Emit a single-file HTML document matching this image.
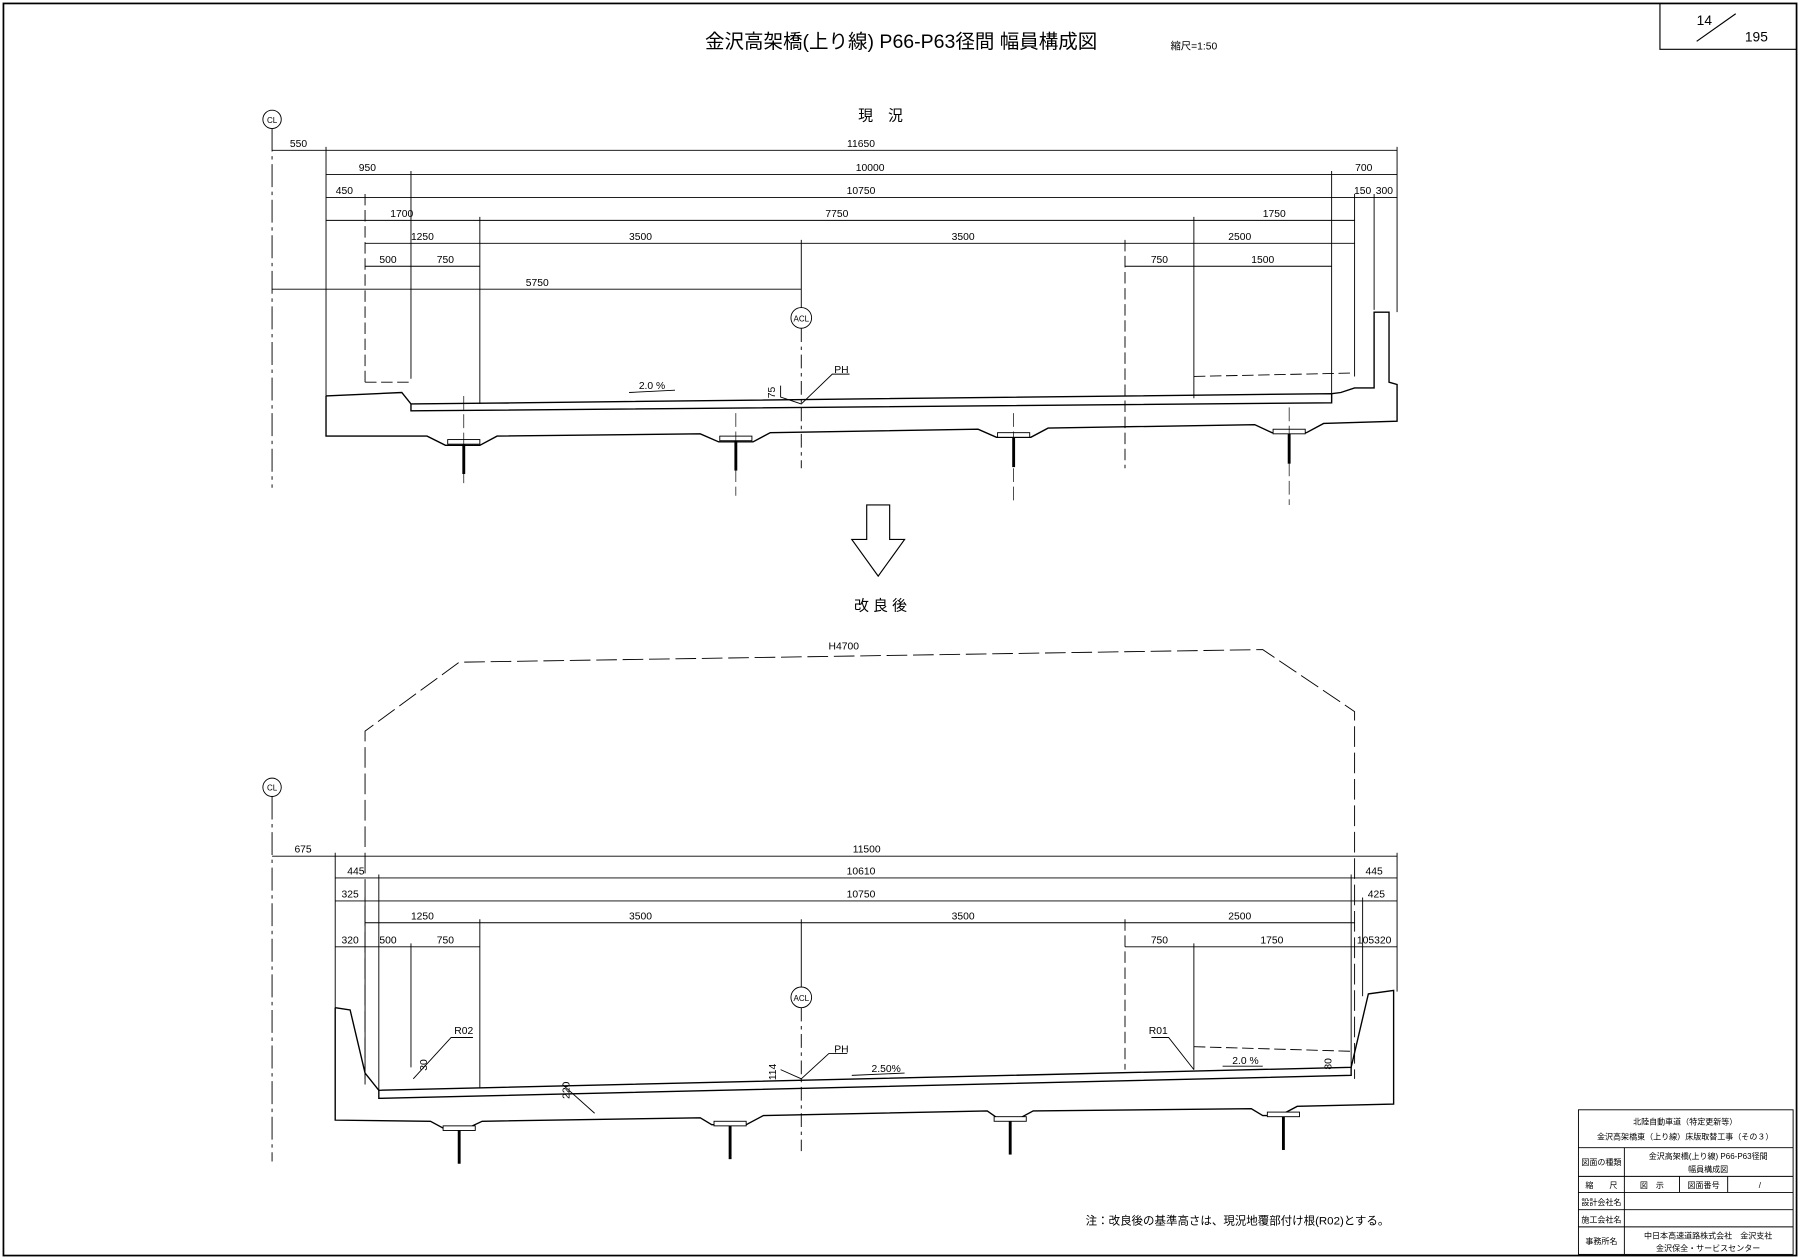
<!DOCTYPE html>
<html><head><meta charset="utf-8"><style>
html,body{margin:0;padding:0;background:#fff}
svg{display:block}
text{font-family:"Liberation Sans","Noto Sans CJK JP",sans-serif;fill:#000}
.d{font-size:9px;text-anchor:middle}
</style></head><body>
<svg width="1800" height="1259" viewBox="0 0 1568 1097" preserveAspectRatio="none" xmlns="http://www.w3.org/2000/svg">
<g fill="none" stroke="#000">
<rect x="3" y="3" width="1562" height="1091" stroke-width="1.5"/>
<polyline points="1446,3 1446,43 1565,43" stroke-width="1"/>
<line x1="1478" y1="36" x2="1512" y2="12" stroke-width="1"/>
</g>
<text x="785" y="42" font-size="17" text-anchor="middle">金沢高架橋(上り線) P66-P63径間 幅員構成図</text>
<text x="1040" y="43" font-size="9" text-anchor="middle">縮尺=1:50</text>
<text x="1478" y="22" font-size="12" font-family="Liberation Serif">14</text>
<text x="1520" y="36" font-size="12" font-family="Liberation Serif">195</text>

<text x="767" y="105" font-size="13" text-anchor="middle">現　況</text>
<text x="767" y="532" font-size="13" text-anchor="middle">改 良 後</text>

<!-- TOP SECTION -->
<g fill="none" stroke="#000" stroke-width="0.8">
<circle cx="237" cy="104" r="8"/>
<line x1="237" y1="112" x2="237" y2="425" stroke-dasharray="20,4,3,4"/>
<!-- dim lines -->
<line x1="237" y1="131" x2="1217" y2="131"/>
<line x1="284" y1="152" x2="1217" y2="152"/>
<line x1="284" y1="172" x2="1217" y2="172"/>
<line x1="284" y1="192" x2="1180" y2="192"/>
<line x1="318" y1="212" x2="1180" y2="212"/>
<line x1="318" y1="232" x2="418" y2="232"/>
<line x1="980" y1="232" x2="1160" y2="232"/>
<line x1="237" y1="252" x2="698" y2="252"/>
<!-- extension lines -->
<line x1="284" y1="128" x2="284" y2="345"/>
<line x1="358" y1="149" x2="358" y2="330"/>
<line x1="318" y1="169" x2="318" y2="333" stroke-dasharray="10,4"/>
<line x1="418" y1="189" x2="418" y2="352"/>
<line x1="698" y1="209" x2="698" y2="268"/>
<line x1="698" y1="286" x2="698" y2="408" stroke-dasharray="12,4,3,4"/>
<line x1="980" y1="209" x2="980" y2="408" stroke-dasharray="10,4"/>
<line x1="1040" y1="189" x2="1040" y2="347"/>
<line x1="1160" y1="149" x2="1160" y2="350"/>
<line x1="1180" y1="169" x2="1180" y2="328"/>
<line x1="1197" y1="169" x2="1197" y2="270"/>
<line x1="1217" y1="128" x2="1217" y2="272"/>
<polyline points="318,333 358,333" stroke-dasharray="10,4"/>
<polyline points="1040,328 1180,325" stroke-dasharray="10,4"/>
<circle cx="698" cy="277" r="9"/>
<!-- deck -->
<g stroke-width="1.2">
<polyline points="284,345 350,342 358,352 1160,343 1160,351 358,358 358,352"/>
<polyline points="284,345 284,380 372,380 388,388 418,388 433,380 610,378 626,385 656,385 671,377 852,374 868,381 898,381 913,373 1093,370 1108,377 1138,377 1153,369 1217,367 1217,335 1210,333 1210,272 1197,272 1197,338 1180,338 1168,342 1160,343"/>
</g>
<line x1="548" y1="342" x2="588" y2="340"/>
<polyline points="680,336 680,346 698,352 725,326 740,326"/>
</g>
<g>
<rect x="390" y="383" width="28" height="4" fill="#fff" stroke="#000" stroke-width="0.8"/>
<rect x="627" y="380" width="28" height="4" fill="#fff" stroke="#000" stroke-width="0.8"/>
<rect x="869" y="377" width="28" height="4" fill="#fff" stroke="#000" stroke-width="0.8"/>
<rect x="1109" y="374" width="28" height="4" fill="#fff" stroke="#000" stroke-width="0.8"/>
<g stroke="#000" stroke-width="2.5"><line x1="404" y1="387" x2="404" y2="413"/><line x1="641" y1="384" x2="641" y2="410"/><line x1="883" y1="381" x2="883" y2="407"/><line x1="1123" y1="378" x2="1123" y2="404"/></g>
<g stroke="#000" stroke-width="0.6" stroke-dasharray="12,4"><line x1="404" y1="345" x2="404" y2="425"/><line x1="641" y1="360" x2="641" y2="432"/><line x1="883" y1="360" x2="883" y2="437"/><line x1="1123" y1="355" x2="1123" y2="440"/></g>
</g>
<text x="698" y="280" font-size="7" text-anchor="middle">ACL</text>
<text x="237" y="107" font-size="7" text-anchor="middle">CL</text>
<text x="568" y="339" font-size="9" text-anchor="middle">2.0 %</text>
<text x="733" y="325" font-size="9" text-anchor="middle">PH</text>
<text x="675" y="342" font-size="9" transform="rotate(-90 675 342)" text-anchor="middle">75</text>
<g class="d">
<text class="d" x="260" y="128">550</text><text class="d" x="750" y="128">11650</text>
<text class="d" x="320" y="149">950</text><text class="d" x="758" y="149">10000</text><text class="d" x="1188" y="149">700</text>
<text class="d" x="300" y="169">450</text><text class="d" x="750" y="169">10750</text><text class="d" x="1187" y="169">150</text><text class="d" x="1206" y="169">300</text>
<text class="d" x="350" y="189">1700</text><text class="d" x="729" y="189">7750</text><text class="d" x="1110" y="189">1750</text>
<text class="d" x="368" y="209">1250</text><text class="d" x="558" y="209">3500</text><text class="d" x="839" y="209">3500</text><text class="d" x="1080" y="209">2500</text>
<text class="d" x="338" y="229">500</text><text class="d" x="388" y="229">750</text><text class="d" x="1010" y="229">750</text><text class="d" x="1100" y="229">1500</text>
<text class="d" x="468" y="249">5750</text>
</g>

<!-- ARROW -->
<polygon points="755,440 775,440 775,470 788,470 765,502 742,470 755,470" fill="#fff" stroke="#000" stroke-width="1"/>

<!-- BOTTOM SECTION -->
<g fill="none" stroke="#000" stroke-width="0.8">
<polyline points="318,945 318,637 400,577 1100,566 1180,620 1180,940" stroke-dasharray="18,5"/>
<circle cx="237" cy="686" r="8"/>
<line x1="237" y1="694" x2="237" y2="1012" stroke-dasharray="20,4,3,4"/>
<line x1="237" y1="746" x2="1217" y2="746"/>
<line x1="292" y1="765" x2="1217" y2="765"/>
<line x1="292" y1="785" x2="1217" y2="785"/>
<line x1="318" y1="804" x2="1180" y2="804"/>
<line x1="292" y1="825" x2="418" y2="825"/>
<line x1="980" y1="825" x2="1217" y2="825"/>
<line x1="292" y1="743" x2="292" y2="878"/>
<line x1="318" y1="782" x2="318" y2="940"/>
<line x1="330" y1="762" x2="330" y2="950"/>
<line x1="358" y1="822" x2="358" y2="930"/>
<line x1="418" y1="801" x2="418" y2="948"/>
<line x1="698" y1="801" x2="698" y2="860"/>
<line x1="698" y1="878" x2="698" y2="1003" stroke-dasharray="12,4,3,4"/>
<line x1="980" y1="801" x2="980" y2="932" stroke-dasharray="10,4"/>
<line x1="1040" y1="822" x2="1040" y2="932"/>
<line x1="1177" y1="762" x2="1177" y2="930"/>
<line x1="1187" y1="782" x2="1187" y2="868"/>
<line x1="1217" y1="743" x2="1217" y2="864"/>
<circle cx="698" cy="869" r="9"/>
<polyline points="1040,912 1177,916" stroke-dasharray="10,4"/>
<g stroke-width="1.2">
<polyline points="292,878 305,880 318,935 330,950 1177,930 1192,866 1214,863 1214,962 1130,964 1115,972 1100,972 1090,966 900,968 887,975 870,975 860,968 665,972 650,980 620,980 610,974 420,977 405,984 388,984 375,977 292,976 292,878"/>
<polyline points="330,950 330,957 1177,937 1177,930"/>
</g>
<polyline points="360,940 393,904 412,904"/>
<polyline points="1040,932 1018,904 1003,904"/>
<polyline points="680,932 698,940 722,918 738,918"/>
<line x1="742" y1="937" x2="788" y2="935"/>
<line x1="1065" y1="929" x2="1100" y2="929"/>
<polyline points="490,945 518,970"/>
</g>
<g>
<rect x="386" y="981" width="28" height="4" fill="#fff" stroke="#000" stroke-width="0.8"/>
<rect x="622" y="977" width="28" height="4" fill="#fff" stroke="#000" stroke-width="0.8"/>
<rect x="866" y="973" width="28" height="4" fill="#fff" stroke="#000" stroke-width="0.8"/>
<rect x="1104" y="969" width="28" height="4" fill="#fff" stroke="#000" stroke-width="0.8"/>
<g stroke="#000" stroke-width="2.5"><line x1="400" y1="985" x2="400" y2="1014"/><line x1="636" y1="981" x2="636" y2="1010"/><line x1="880" y1="977" x2="880" y2="1006"/><line x1="1118" y1="973" x2="1118" y2="1002"/></g>
</g>
<text x="698" y="872" font-size="7" text-anchor="middle">ACL</text>
<text x="237" y="689" font-size="7" text-anchor="middle">CL</text>
<text x="735" y="566" font-size="9" text-anchor="middle">H4700</text>
<text x="404" y="901" font-size="9" text-anchor="middle">R02</text>
<text x="1009" y="901" font-size="9" text-anchor="middle">R01</text>
<text x="733" y="917" font-size="9" text-anchor="middle">PH</text>
<text x="772" y="934" font-size="9" text-anchor="middle">2.50%</text>
<text x="1085" y="927" font-size="9" text-anchor="middle">2.0 %</text>
<text x="676" y="934" font-size="9" transform="rotate(-90 676 934)" text-anchor="middle">114</text>
<text x="372" y="928" font-size="9" transform="rotate(-90 372 928)" text-anchor="middle">30</text>
<text x="496" y="950" font-size="9" transform="rotate(-90 496 950)" text-anchor="middle">220</text>
<text x="1160" y="927" font-size="9" transform="rotate(-90 1160 927)" text-anchor="middle">80</text>
<g>
<text class="d" x="264" y="743">675</text><text class="d" x="755" y="743">11500</text>
<text class="d" x="310" y="762">445</text><text class="d" x="750" y="762">10610</text><text class="d" x="1197" y="762">445</text>
<text class="d" x="305" y="782">325</text><text class="d" x="750" y="782">10750</text><text class="d" x="1199" y="782">425</text>
<text class="d" x="368" y="801">1250</text><text class="d" x="558" y="801">3500</text><text class="d" x="839" y="801">3500</text><text class="d" x="1080" y="801">2500</text>
<text class="d" x="305" y="822">320</text><text class="d" x="338" y="822">500</text><text class="d" x="388" y="822">750</text><text class="d" x="1010" y="822">750</text><text class="d" x="1108" y="822">1750</text><text class="d" x="1197" y="822">105320</text>
</g>
<text x="1078" y="1067" font-size="10" text-anchor="middle">注：改良後の基準高さは、現況地覆部付け根(R02)とする。</text>

<!-- TITLE BLOCK -->
<g fill="none" stroke="#000" stroke-width="0.8">
<rect x="1375" y="967" width="187" height="126"/>
<line x1="1375" y1="1000" x2="1562" y2="1000"/>
<line x1="1375" y1="1025" x2="1562" y2="1025"/>
<line x1="1375" y1="1039" x2="1562" y2="1039"/>
<line x1="1375" y1="1054" x2="1562" y2="1054"/>
<line x1="1375" y1="1069" x2="1562" y2="1069"/>
<line x1="1415" y1="1000" x2="1415" y2="1093"/>
<line x1="1463" y1="1025" x2="1463" y2="1039"/>
<line x1="1505" y1="1025" x2="1505" y2="1039"/>
</g>
<g font-size="7" text-anchor="middle">
<text x="1468" y="980" font-size="7" text-anchor="middle">北陸自動車道（特定更新等）</text>
<text x="1468" y="993" font-size="7" text-anchor="middle">金沢高架橋東（上り線）床版取替工事（その３）</text>
<text x="1395" y="1015" font-size="7" text-anchor="middle">図面の種類</text>
<text x="1488" y="1010" font-size="7" text-anchor="middle">金沢高架橋(上り線) P66-P63径間</text>
<text x="1488" y="1021" font-size="7" text-anchor="middle">幅員構成図</text>
<text x="1395" y="1035" font-size="7" text-anchor="middle">縮　　尺</text>
<text x="1439" y="1035" font-size="7" text-anchor="middle">図　示</text>
<text x="1484" y="1035" font-size="7" text-anchor="middle">図面番号</text>
<text x="1533" y="1035" font-size="7" text-anchor="middle">/</text>
<text x="1395" y="1050" font-size="7" text-anchor="middle">設計会社名</text>
<text x="1395" y="1065" font-size="7" text-anchor="middle">施工会社名</text>
<text x="1395" y="1084" font-size="7" text-anchor="middle">事務所名</text>
<text x="1488" y="1079" font-size="7" text-anchor="middle">中日本高速道路株式会社　金沢支社</text>
<text x="1488" y="1090" font-size="7" text-anchor="middle">金沢保全・サービスセンター</text>
</g>
</svg>
</body></html>
